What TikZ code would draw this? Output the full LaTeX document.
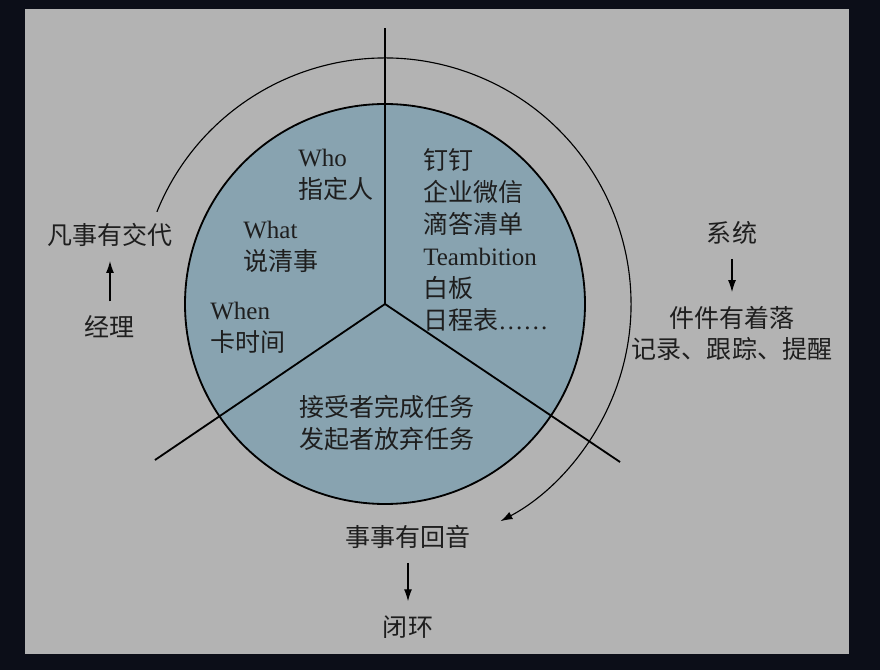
\documentclass[tikz,border=0pt]{standalone}
\usepackage{fontspec}
\setmainfont{Liberation Serif}
\newfontfamily\cjk{Noto Sans CJK SC}
\usetikzlibrary{arrows.meta}
\definecolor{night}{HTML}{0C0E18}
\definecolor{panelgray}{HTML}{B3B3B3}
\definecolor{slateblue}{HTML}{88A3B0}
\definecolor{ink}{HTML}{1E1E1E}
\newcommand{\hz}[1]{{\cjk #1}}
\tikzset{%
  txt/.style   = {text = ink, align = left, inner sep = 0pt,
    font = \fontsize{17.8}{22.8}\selectfont}, % text inside the circle
  side/.style  = {text = ink, inner sep = 2pt,
    font = \cjk\fontsize{17.8}{22.8}\selectfont}, % text outside
  flow/.style  = {-{Latex[length = 3mm, width = 2mm]}, line width = 0.8pt,
    shorten > = 8pt, shorten < = 8pt}, % short arrows
  spoke/.style = {line width = 1.3pt}
}

\begin{document}
\begin{tikzpicture}
%background
\fill[night] (-9.625,7.6) rectangle (12.375,-9.15);
\fill[panelgray] (-9,7.375) rectangle (11.6,-8.75);
%circle and spokes
\coordinate (c) at (0,0);
\coordinate (top) at (0,6.9);
\coordinate (left) at (-5.75,-3.9);
\coordinate (right) at (5.875,-3.95);
\draw[fill = slateblue, line width = 1.3pt] (c) circle (5);
\draw[spoke] (c) -- (top);
\draw[spoke] (c) -- (left);
\draw[spoke] (c) -- (right);
%cycle arrow
\draw[-{Latex[length = 3mm, width = 2mm]}, line width = 0.8pt]
  (158:6.15) arc[start angle = 158, end angle = -62, radius = 6.15];
%circle texts
\draw
  (-2.175,3.24) node [txt, anchor = west] (who) {Who\\\hz{指定人}}
  (-3.55,1.425) node [txt, anchor = west] (what) {What\\\hz{说清事}}
  (-4.375,-0.59) node [txt, anchor = west] (when) {When\\\hz{卡时间}}
  (0.95,1.6) node [txt, anchor = west] (tools) {\hz{钉钉}\\\hz{企业微信}\\\hz{滴答清单}\\Teambition\\\hz{白板}\\\hz{日程表}……}
  (0.05,-2.975) node [txt] (finish) {\hz{接受者完成任务}\\\hz{发起者放弃任务}};
%outer texts
\draw
  (-6.875,1.725) node [side] (fanshi) {凡事有交代}
  (-6.875,-0.575) node [side] (jingli) {经理}
  (8.675,1.775) node [side] (xitong) {系统}
  (8.675,-0.35) node [side] (jianjian) {件件有着落}
  (8.675,-1.125) node [side] (jilu) {记录、跟踪、提醒}
  (0.575,-5.825) node [side] (huiyin) {事事有回音}
  (0.575,-8.075) node [side] (bihuan) {闭环};
%arrows
\draw[flow] (jingli) -- (fanshi);
\draw[flow] (xitong) -- (jianjian);
\draw[flow] (huiyin) -- (bihuan);
\end{tikzpicture}
\end{document}
